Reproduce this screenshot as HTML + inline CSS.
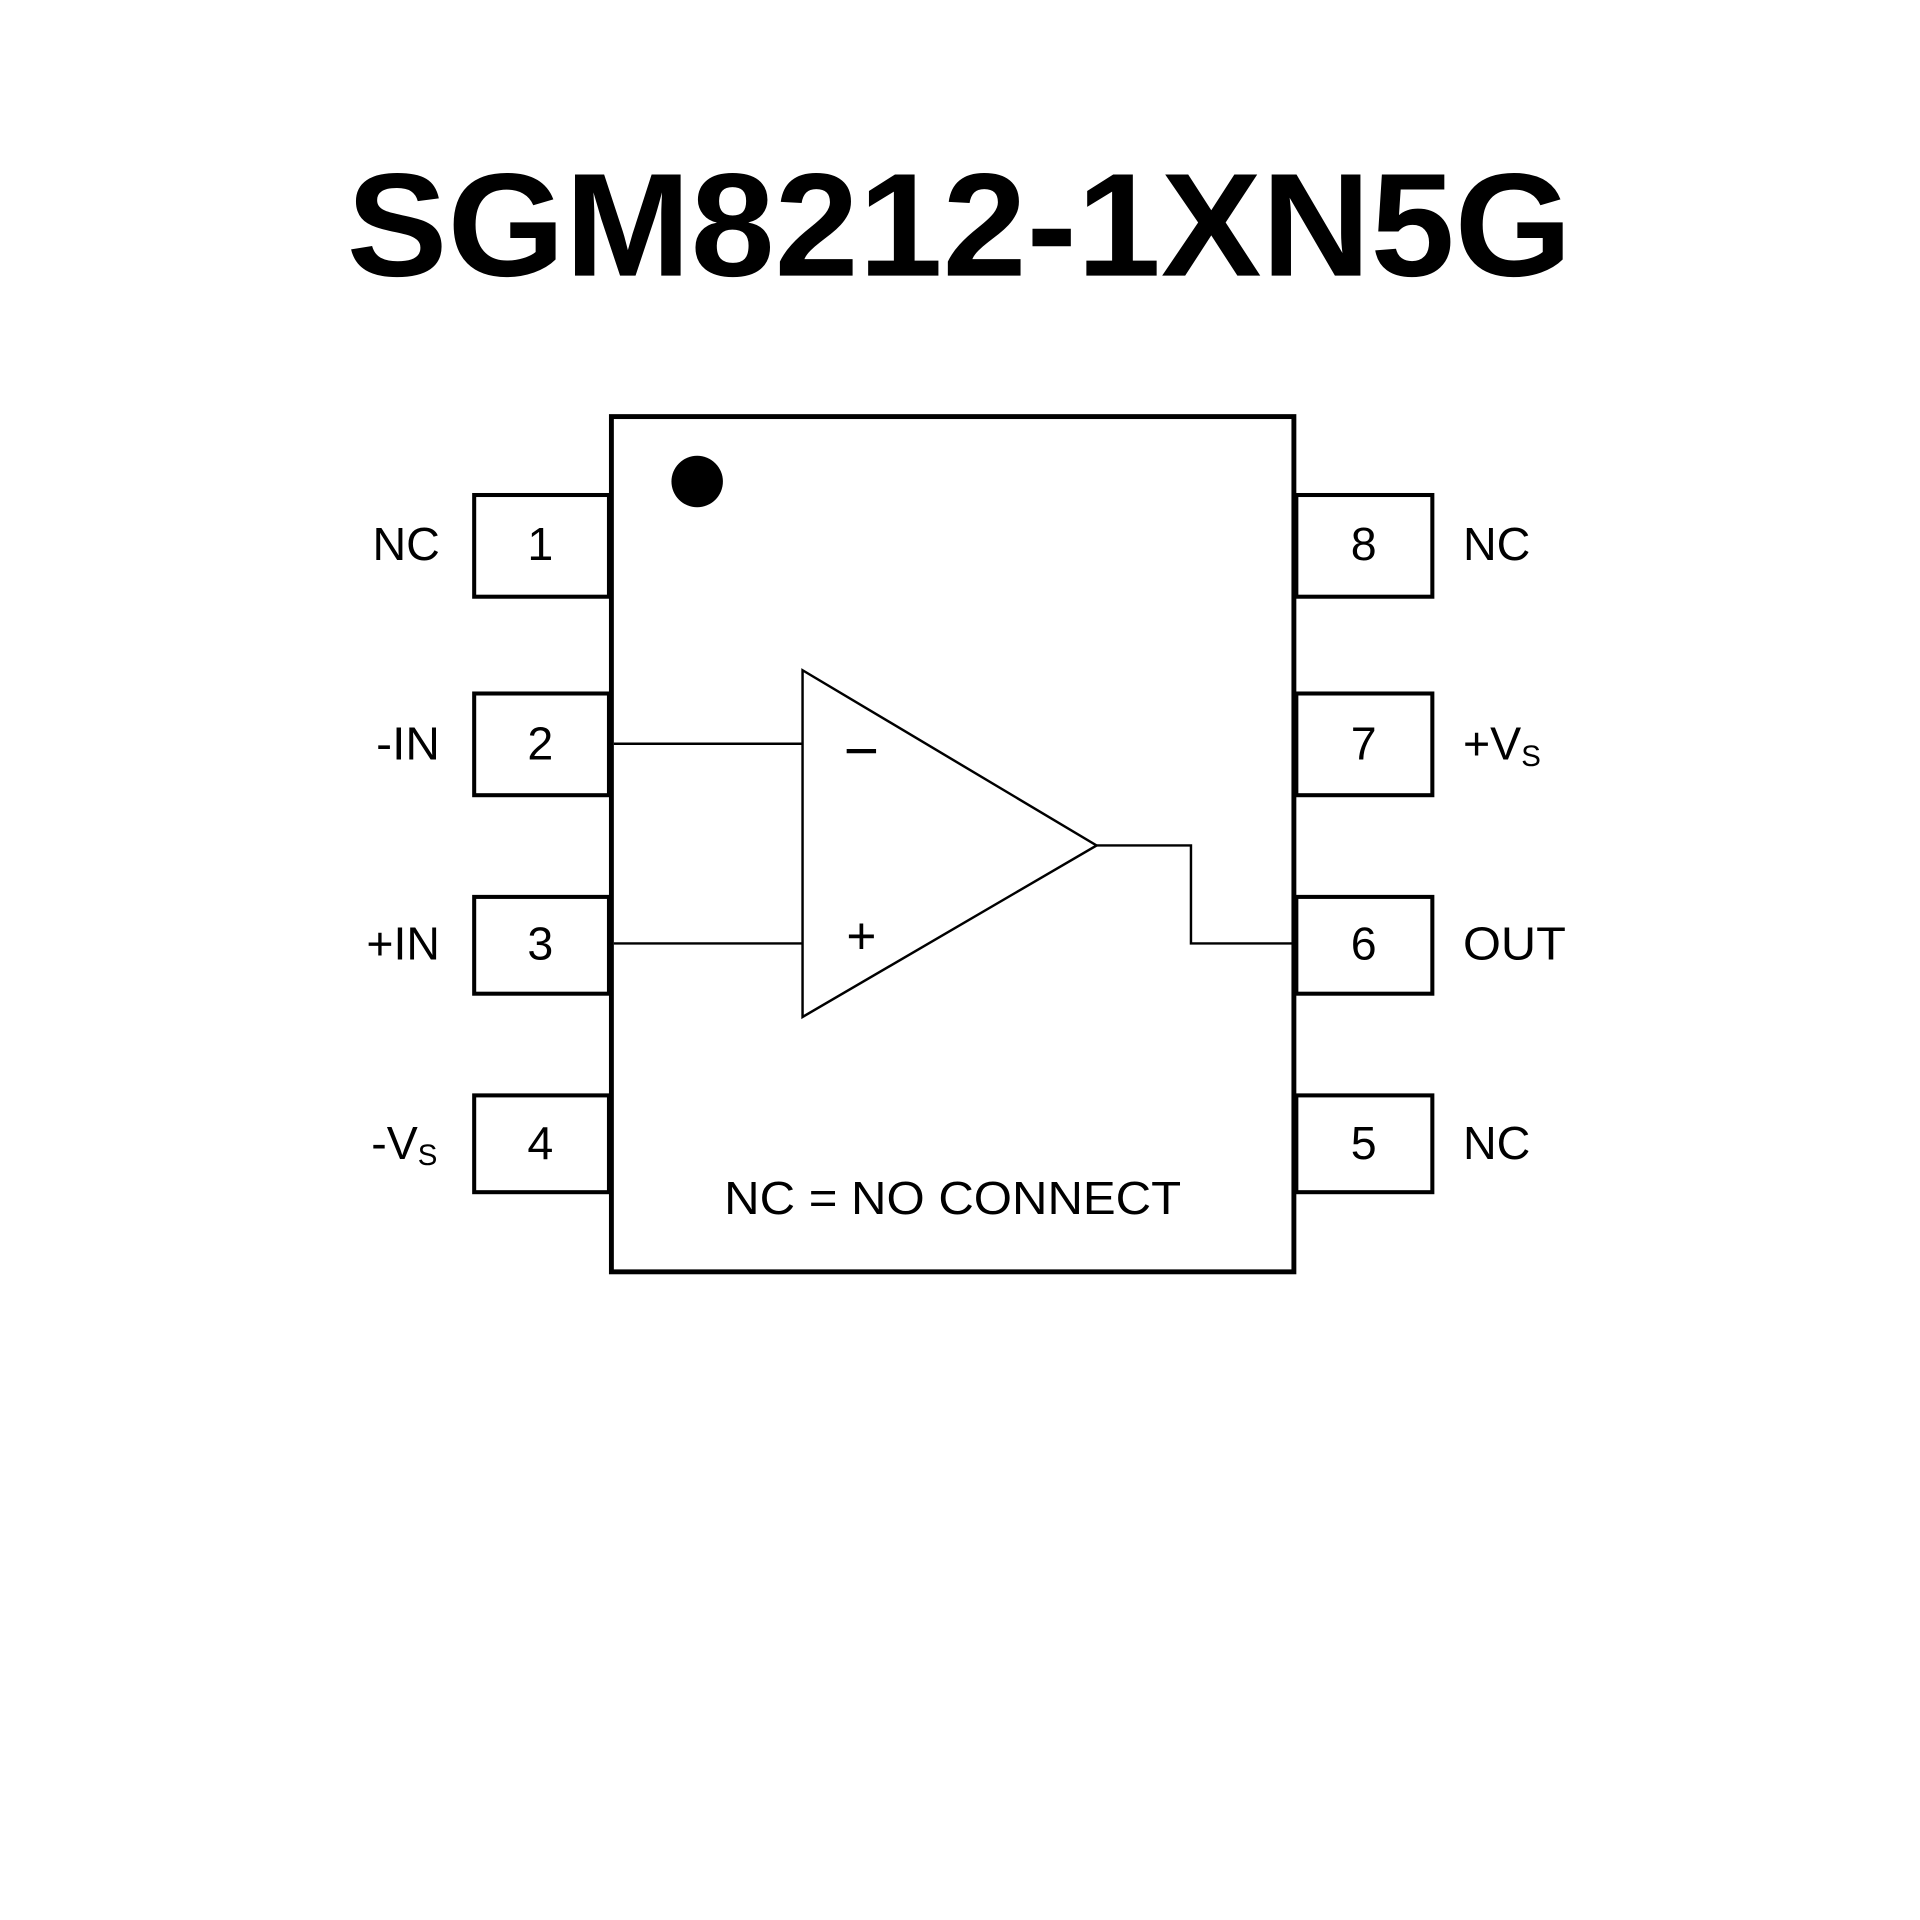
<!DOCTYPE html>
<html><head><meta charset="utf-8"><style>html,body{margin:0;padding:0;background:#fff}svg{display:block}</style></head>
<body>
<svg width="1920" height="1920" viewBox="0 0 1567 1567" xmlns="http://www.w3.org/2000/svg">
<rect width="1567" height="1567" fill="#fff"/>
<text x="783" y="225" text-anchor="middle" font-family="Liberation Sans, sans-serif" font-weight="bold" font-size="120" textLength="1000" lengthAdjust="spacingAndGlyphs">SGM8212-1XN5G</text>
<g fill="none" stroke="#000">
<rect x="499" y="340" width="557" height="698" stroke-width="4"/>
<g stroke-width="3.3">
<rect x="387" y="404" width="110" height="83"/>
<rect x="387" y="566" width="110" height="83"/>
<rect x="387" y="732" width="110" height="79"/>
<rect x="387" y="894" width="110" height="79"/>
<rect x="1058" y="404" width="111" height="83"/>
<rect x="1058" y="566" width="111" height="83"/>
<rect x="1058" y="732" width="111" height="79"/>
<rect x="1058" y="894" width="111" height="79"/>
</g>
<g stroke-width="2">
<polygon points="655,547 655,830 895,690"/>
<line x1="501" y1="607" x2="655" y2="607"/>
<line x1="501" y1="770" x2="655" y2="770"/>
<polyline points="895,690 972,690 972,770 1056,770"/>
</g>
<line x1="691" y1="613" x2="715" y2="613" stroke-width="3.5"/>
</g>
<circle cx="569" cy="393" r="21" fill="#000"/>
<g font-family="Liberation Sans, sans-serif" font-size="38" fill="#000">
<g text-anchor="middle">
<text x="441" y="457">1</text><text x="441" y="620">2</text><text x="441" y="783">3</text><text x="441" y="946">4</text>
<text x="1113" y="457">8</text><text x="1113" y="620">7</text><text x="1113" y="783">6</text><text x="1113" y="946">5</text>
</g>
<text x="304" y="457" textLength="55" lengthAdjust="spacingAndGlyphs">NC</text>
<text x="307" y="620" textLength="52" lengthAdjust="spacingAndGlyphs">-IN</text>
<text x="299" y="783" textLength="60" lengthAdjust="spacingAndGlyphs">+IN</text>
<text x="303" y="946">-V<tspan font-size="24" dy="5">S</tspan></text>
<text x="1194" y="457" textLength="55" lengthAdjust="spacingAndGlyphs">NC</text>
<text x="1194" y="620">+V<tspan font-size="24" dy="5">S</tspan></text>
<text x="1194" y="783" textLength="84" lengthAdjust="spacingAndGlyphs">OUT</text>
<text x="1194" y="946" textLength="55" lengthAdjust="spacingAndGlyphs">NC</text>
<text x="591" y="991" textLength="373" lengthAdjust="spacingAndGlyphs">NC = NO CONNECT</text>
<text x="703" y="778" text-anchor="middle" font-size="42">+</text>
</g>
</svg>
</body></html>
